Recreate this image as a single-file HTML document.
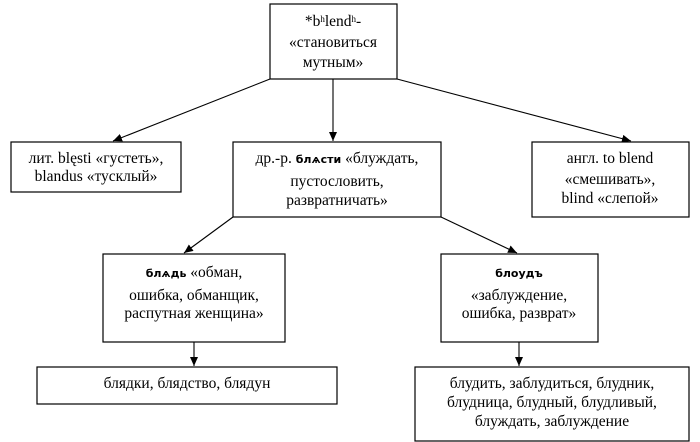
<!DOCTYPE html>
<html><head><meta charset="utf-8"><style>
html,body{margin:0;padding:0;background:#fff;}
svg{display:block;}
text{font-family:"Liberation Serif","DejaVu Serif",serif;font-size:15.5px;fill:#000;text-anchor:middle;}
.cs{font-family:"DejaVu Sans","Liberation Sans",sans-serif;font-weight:bold;font-size:11px;}
rect{fill:#fff;stroke:#000;stroke-width:1.2;}
line{stroke:#000;stroke-width:1.1;}
</style></head><body>
<svg width="700" height="442" viewBox="0 0 700 442">
<defs><marker id="a" markerWidth="10" markerHeight="10" refX="9" refY="5" orient="auto" markerUnits="userSpaceOnUse"><path d="M0,1 L9,5 L0,9 z" fill="#000"/></marker></defs>
<line x1="270" y1="79" x2="113" y2="141" marker-end="url(#a)"/>
<line x1="333" y1="79" x2="333" y2="141" marker-end="url(#a)"/>
<line x1="397" y1="79" x2="631" y2="141" marker-end="url(#a)"/>
<line x1="233" y1="217" x2="184" y2="253" marker-end="url(#a)"/>
<line x1="441" y1="217" x2="517" y2="253" marker-end="url(#a)"/>
<line x1="194" y1="342" x2="194" y2="366" marker-end="url(#a)"/>
<line x1="519" y1="342" x2="519" y2="366" marker-end="url(#a)"/>
<rect x="270" y="4" width="127" height="75"/>
<text x="333" y="26">*b<tspan font-size="9" dy="-4">h</tspan><tspan dy="4">lend</tspan><tspan font-size="9" dy="-4">h</tspan><tspan dy="4">-</tspan></text>
<text x="333" y="47">«становиться</text>
<text x="333" y="67">мутным»</text>
<rect x="11" y="142" width="170" height="50"/>
<text x="96" y="163">лит. blęsti «густеть»,</text>
<text x="96" y="181">blandus «тусклый»</text>
<rect x="233" y="142" width="208" height="75"/>
<text x="337" y="163">др.-р. <tspan class="cs">блѧсти</tspan> «блуждать,</text>
<text x="337" y="186">пустословить,</text>
<text x="337" y="205">развратничать»</text>
<rect x="532" y="142" width="157" height="75"/>
<text x="610" y="163">англ. to blend</text>
<text x="610" y="184">«смешивать»,</text>
<text x="610" y="203">blind «слепой»</text>
<rect x="103" y="254" width="182" height="88"/>
<text x="194" y="277"><tspan class="cs">блѧдь</tspan> «обман,</text>
<text x="194" y="300">ошибка, обманщик,</text>
<text x="194" y="318">распутная женщина»</text>
<rect x="441" y="254" width="157" height="88"/>
<text x="519" y="277" class="cs">блоудъ</text>
<text x="519" y="300">«заблуждение,</text>
<text x="519" y="318">ошибка, разврат»</text>
<rect x="37" y="367" width="300" height="37"/>
<text x="187" y="388">блядки, блядство, блядун</text>
<rect x="415" y="367" width="274" height="74"/>
<text x="552" y="388">блудить, заблудиться, блудник,</text>
<text x="552" y="407">блудница, блудный, блудливый,</text>
<text x="552" y="426">блуждать, заблуждение</text>
</svg>
</body></html>
